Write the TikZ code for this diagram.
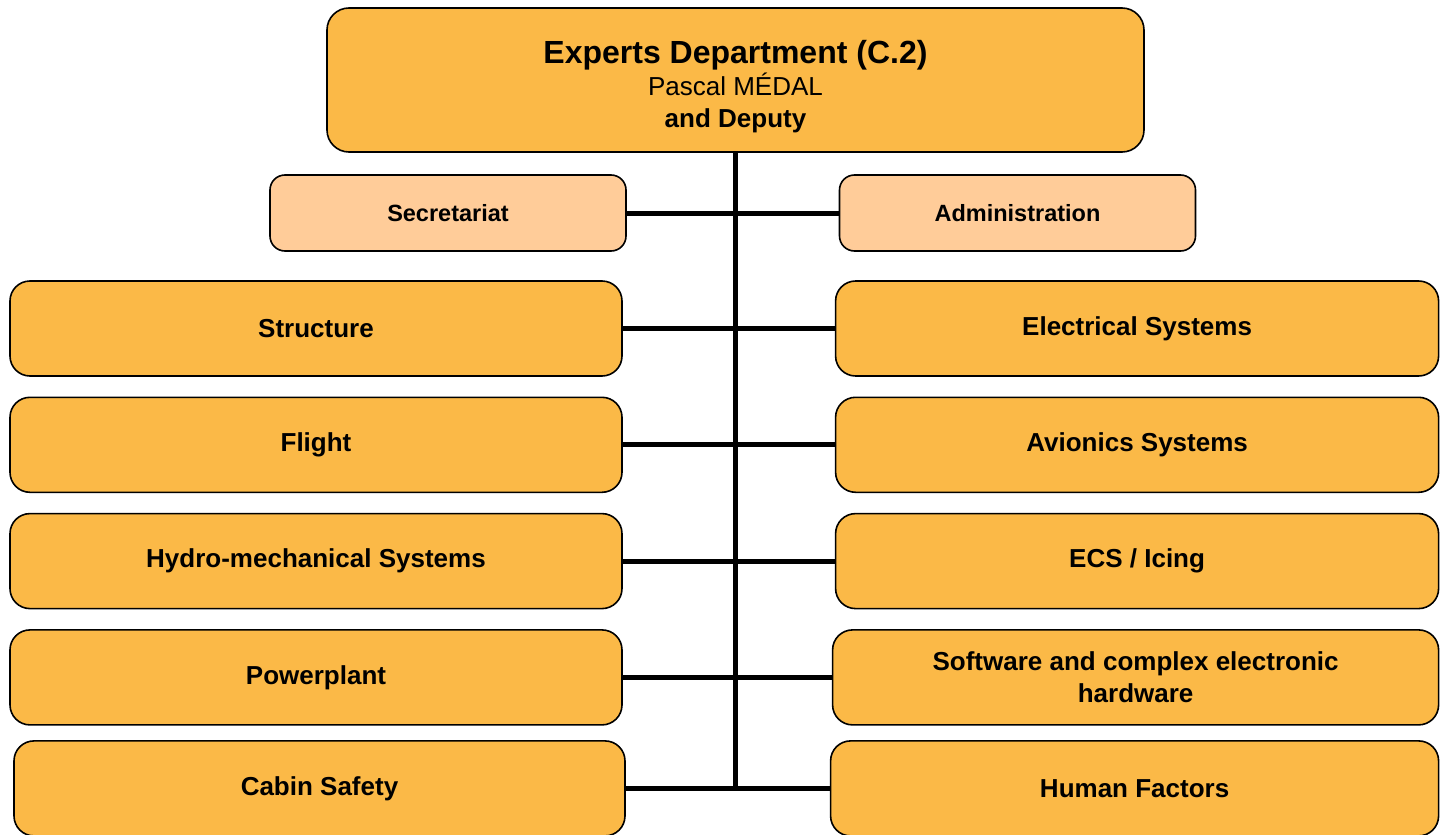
\documentclass[tikz,border=0pt]{standalone}
\usepackage{fontspec}
\setmainfont{Liberation Sans}
\usetikzlibrary{positioning}
\definecolor{unitfill}{RGB}{251,185,71}
\definecolor{stafffill}{RGB}{255,204,153}
\tikzset{
  x=1pt, y=1pt,
  head/.style ={draw, line width=1.6pt, rounded corners=22pt, minimum height=144pt, minimum width=817pt, align=center, fill=unitfill, font=\bfseries\fontsize{26}{32}\selectfont},
  staff/.style={draw, line width=1.6pt, rounded corners=15pt, minimum height=76pt, minimum width=356pt, align=center, fill=stafffill, font=\bfseries\fontsize{23.5}{28}\selectfont},
  unit/.style ={draw, line width=1.6pt, rounded corners=20pt, minimum height=95pt, minimum width=612pt, align=center, fill=unitfill, font=\bfseries\fontsize{26}{32}\selectfont},
  runit/.style={unit, minimum width=603pt},
  link/.style ={line width=5pt},
}

\begin{document}
\begin{tikzpicture}[node distance=19.7pt and 212pt]
  \useasboundingbox (0,0) rectangle (1441,-835);

  \node[head] (dept) at (735.5,-80) {\rule{0pt}{35.5pt}{\fontsize{32}{34}\selectfont Experts Department (C.2)}\\{\mdseries Pascal MÉDAL}\\and Deputy};
  \node[staff] (sec) at (448,-213) {Secretariat};
  \node[staff] (adm) at (1017.5,-213) {Administration};

  % left column
  \node[unit] (str) at (316,-328.5) {Structure};
  \node[unit, below=of str] (flt) {Flight};
  \node[unit, below=of flt] (hyd) {Hydro-mechanical Systems};
  \node[unit, below=of hyd] (pwr) {Powerplant};
  \node[unit, below=14.4pt of pwr, xshift=3.5pt, minimum width=611pt] (cab) {Cabin Safety};

  % right column
  \node[runit, right=of str] (ele) {Electrical Systems};
  \node[runit, below=of ele] (avi) {Avionics Systems};
  \node[runit, below=of avi] (ecs) {ECS / Icing};
  \node[runit, below=of ecs, xshift=-1.5pt, minimum width=606pt] (sw) {Software and complex electronic\\hardware};
  \node[runit, below=14.4pt of sw, xshift=-1pt, minimum width=608pt] (hf) {Human Factors};

  \coordinate (bot) at (dept.south |- cab.east);
  \draw[link] (dept.south) -- (bot);
  \draw[link] (sec) -- (adm);
  \draw[link] (str) -- (ele);
  \draw[link] (flt) -- (avi);
  \draw[link] (hyd) -- (ecs);
  \draw[link] (pwr) -- (sw);
  \draw[link] (cab) -- (hf);
\end{tikzpicture}
\end{document}
